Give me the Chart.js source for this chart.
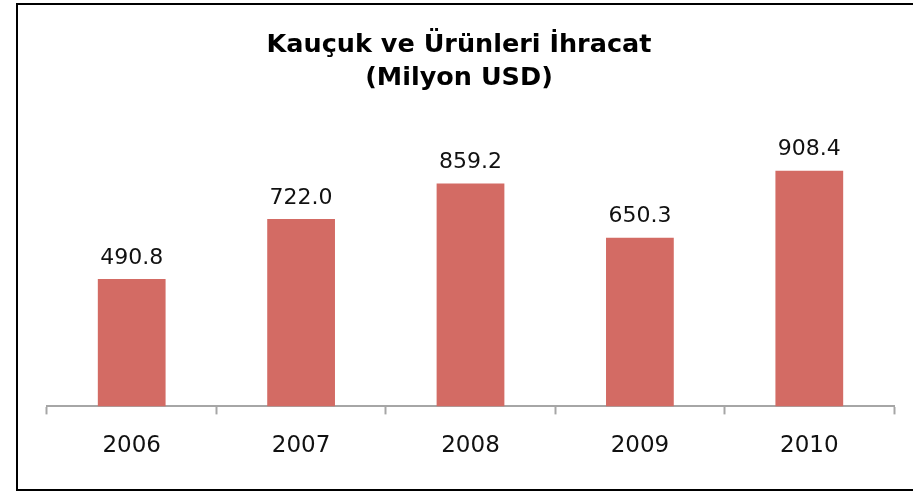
<!DOCTYPE html>
<html>
<head>
<meta charset="utf-8">
<script src="https://cdn.jsdelivr.net/npm/chart.js@4"></script>
<style>
    html, body { margin: 0; padding: 0; background: #ffffff; }
    #frame {
        position: absolute; left: 16px; top: 3px;
        width: 920px; height: 484px;
        border: 2px solid #000000;
    }
    #wrap { position: absolute; left: 0; top: 0; width: 913px; height: 491px; }
</style>
</head>
<body>
<div id="frame"></div>
<div id="wrap"><canvas id="chart" width="913" height="491"></canvas></div>
<script>
const years = ['2006', '2007', '2008', '2009', '2010'];
const exports = [490.8, 722.0, 859.2, 650.3, 908.4];
const titleLines = ['Kauçuk ve Ürünleri İhracat', '(Milyon USD)'];

const barColor = '#D36B64';
const axisColor = '#A6A6A6';

// title is centred on the frame, not on the plot, so draw it by hand
const frameTitle = {
    id: 'frameTitle',
    afterDraw(chart) {
        const ctx = chart.ctx;
        ctx.save();
        ctx.font = "bold 25.5px 'DejaVu Sans'";
        ctx.fillStyle = '#000000';
        ctx.textAlign = 'center';
        ctx.textBaseline = 'middle';
        titleLines.forEach((line, i) => {
            ctx.fillText(line, 459, 45 + i * 33);
        });
        ctx.restore();
    }
};

// value above each bar
const valueLabels = {
    id: 'valueLabels',
    afterDatasetsDraw(chart) {
        const ctx = chart.ctx;
        const meta = chart.getDatasetMeta(0);
        ctx.save();
        ctx.font = "22px 'DejaVu Sans'";
        ctx.fillStyle = '#111111';
        ctx.textAlign = 'center';
        ctx.textBaseline = 'middle';
        meta.data.forEach((bar, i) => {
            ctx.fillText(exports[i].toFixed(1), bar.x, bar.y - 21);
        });
        ctx.restore();
    }
};

new Chart(document.getElementById('chart'), {
    type: 'bar',
    data: {
        labels: years,
        datasets: [{
            data: exports,
            backgroundColor: barColor,
            borderWidth: 0,
            categoryPercentage: 0.4,
            barPercentage: 1.0
        }]
    },
    options: {
        responsive: false,
        animation: false,
        layout: {
            padding: { left: 47, right: 19, top: 147, bottom: 13 }
        },
        plugins: {
            legend: { display: false },
            tooltip: { enabled: false },
            title: { display: false }
        },
        scales: {
            x: {
                grid: {
                    offset: true,
                    drawOnChartArea: false,
                    drawTicks: true,
                    tickLength: 8,
                    tickWidth: 2,
                    color: axisColor
                },
                border: { display: true, color: axisColor, width: 2 },
                ticks: {
                    color: '#111111',
                    padding: 18,
                    font: { family: "'DejaVu Sans'", size: 23 }
                }
            },
            y: {
                display: false,
                min: 0,
                max: 1000
            }
        }
    },
    plugins: [valueLabels, frameTitle]
});
</script>
</body>
</html>
